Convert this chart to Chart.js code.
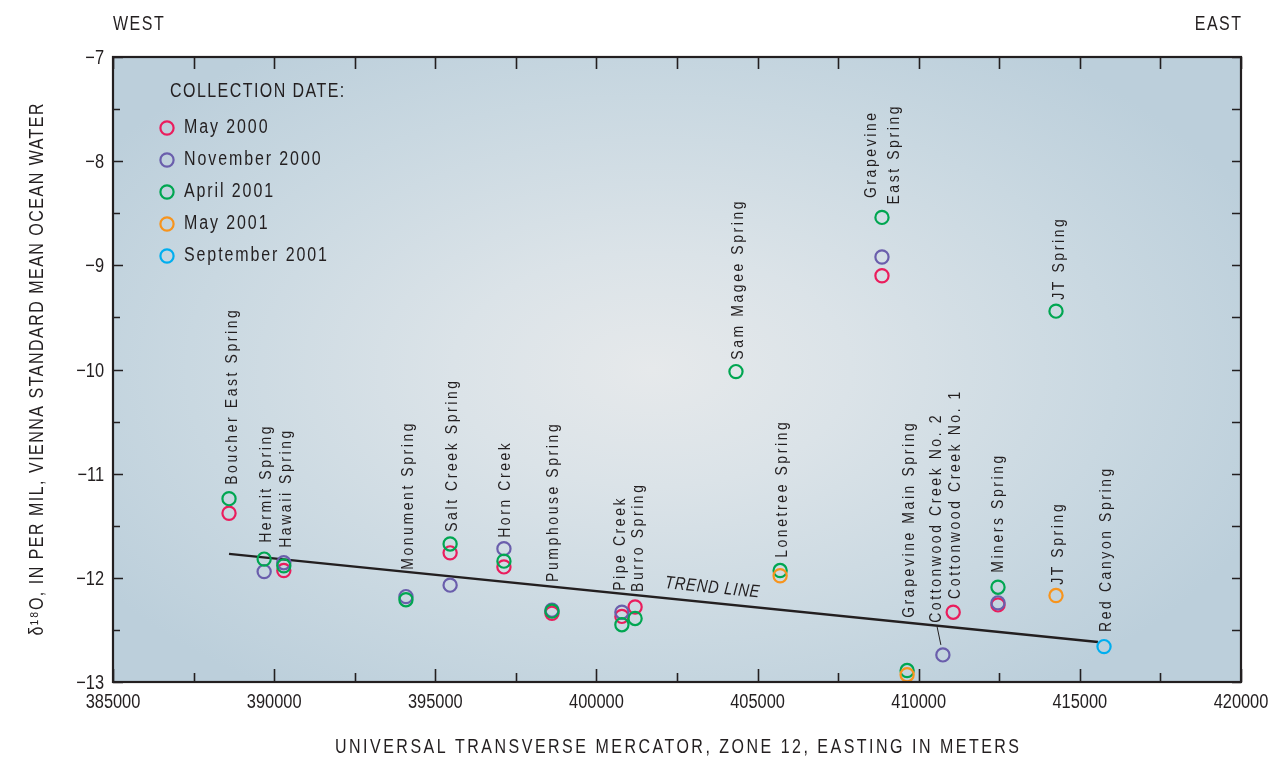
<!DOCTYPE html>
<html>
<head>
<meta charset="utf-8">
<script src="https://cdn.jsdelivr.net/npm/chart.js@4.4.1/dist/chart.umd.min.js"></script>
<style>
  html, body { margin: 0; padding: 0; background: #ffffff; }
  #wrap { width: 1270px; height: 761px; position: relative; }
</style>
</head>
<body>
<div id="wrap"><canvas id="chart" width="1270" height="761"></canvas></div>
<script>
// Sampling sites, west to east
const siteNames = [
  'Boucher East Spring', 'Hermit Spring', 'Hawaii Spring', 'Monument Spring',
  'Salt Creek Spring', 'Horn Creek', 'Pumphouse Spring', 'Pipe Creek',
  'Burro Spring', 'Sam Magee Spring', 'Lonetree Spring', 'Grapevine East Spring',
  'Grapevine Main Spring', 'Cottonwood Creek No. 2', 'Cottonwood Creek No. 1',
  'Miners Spring', 'JT Spring', 'Red Canyon Spring'
];
// UTM zone 12 easting, meters
const siteEasting = [
  388600, 389690, 390300, 394090, 395460, 397130, 398620, 400790, 401200,
  404330, 405700, 408860, 409640, 410750, 411070, 412460, 414260, 415750
];
// δ18O, per mil VSMOW, by collection date (null = not sampled)
const may2000 = [-11.38, null, -11.93, null, -11.76, -11.895, -12.34, -12.37, -12.28,
  null, null, -9.10, null, null, -12.33, -12.26, null, null];
const nov2000 = [null, -11.94, -11.855, -12.18, -12.07, -11.72, -12.31, -12.33, null,
  null, null, -8.92, null, -12.74, null, -12.24, null, null];
const apr2001 = [-11.24, -11.82, -11.885, -12.21, -11.675, -11.84, -12.32, -12.45, -12.39,
  -10.02, -11.93, -8.54, -12.89, null, null, -12.09, -9.44, null];
const may2001 = [null, null, null, null, null, null, null, null, null,
  null, -11.98, null, -12.93, null, null, null, -12.17, null];
const sep2001 = [null, null, null, null, null, null, null, null, null,
  null, null, null, null, null, null, null, null, -12.66];

const collectionNames = ['May 2000', 'November 2000', 'April 2001', 'May 2001', 'September 2001'];
const collectionValues = [may2000, nov2000, apr2001, may2001, sep2001];
const collectionColors = ['#ea1d5d', '#6a5eac', '#00a651', '#f7941d', '#00aeef'];

// Trend line end points
const trendEasting = [388600, 415560];
const trendValue = [-11.77, -12.615];

const xTickValues = [385000, 390000, 395000, 400000, 405000, 410000, 415000, 420000];
const yTickValues = [-13, -12, -11, -10, -9, -8, -7];

// Site label placement: text, easting of label, value where the label starts
const labelPlacement = [
  { text: ['Boucher East Spring'], e: 388690, v: -11.107 },
  { text: ['Hermit Spring'], e: 389750, v: -11.664 },
  { text: ['Hawaii Spring'], e: 390370, v: -11.712 },
  { text: ['Monument Spring'], e: 394150, v: -11.923 },
  { text: ['Salt Creek Spring'], e: 395520, v: -11.558 },
  { text: ['Horn Creek'], e: 397160, v: -11.616 },
  { text: ['Pumphouse Spring'], e: 398650, v: -12.039 },
  { text: ['Pipe Creek'], e: 400730, v: -12.125 },
  { text: ['Burro Spring'], e: 401290, v: -12.135 },
  { text: ['Sam Magee Spring'], e: 404390, v: -9.906 },
  { text: ['Lonetree Spring'], e: 405760, v: -11.808 },
  { text: ['Grapevine', 'East Spring'], e: 408890, v: -7.946, centered: true },
  { text: ['JT Spring'], e: 414350, v: -9.33 },
  { text: ['Grapevine Main Spring'], e: 409700, v: -12.384 },
  { text: ['Cottonwood Creek No. 2'], e: 410540, v: -12.432, leaderTo: 13 },
  { text: ['Cottonwood Creek No. 1'], e: 411130, v: -12.202 },
  { text: ['Miners Spring'], e: 412460, v: -11.952 },
  { text: ['JT Spring'], e: 414320, v: -12.067 },
  { text: ['Red Canyon Spring'], e: 415810, v: -12.519 }
];
const trendLabelEasting = 403590;

const FONT = "'Liberation Sans', Arial, sans-serif";
const CONDENSE = 0.82;
const INK = '#231f20';

// Text drawn narrowed along its own direction, with tracking given in screen px
function spacedText(ctx, text, x, y, o) {
  const sx = o.sx === undefined ? CONDENSE : o.sx;
  ctx.save();
  ctx.font = o.font;
  ctx.fillStyle = o.color || INK;
  ctx.letterSpacing = ((o.spacing || 0) / sx) + 'px';
  ctx.textAlign = o.align || 'left';
  ctx.textBaseline = o.baseline || 'middle';
  ctx.translate(x, y);
  if (o.rotate) ctx.rotate(o.rotate);
  ctx.scale(sx, 1);
  let dx = 0;
  if ((o.align === 'center') && o.spacing) dx = (o.spacing / sx) / 2;
  if ((o.align === 'right') && o.spacing) dx = o.spacing / sx;
  ctx.fillText(text, dx, 0);
  ctx.restore();
}

// Shaded plot background
const backdrop = {
  id: 'backdrop',
  beforeDraw(chart) {
    const { ctx, chartArea: a } = chart;
    const cx = (a.left + a.right) / 2 - 25, cy = (a.top + a.bottom) / 2;
    ctx.save();
    ctx.beginPath();
    ctx.rect(a.left, a.top, a.right - a.left, a.bottom - a.top);
    ctx.clip();
    ctx.translate(cx, cy);
    ctx.scale(1.7, 1);
    const g = ctx.createRadialGradient(0, 0, 0, 0, 0, 390);
    g.addColorStop(0, '#e6e9eb');
    g.addColorStop(0.3, '#dbe3e8');
    g.addColorStop(0.7, '#c9d8e1');
    g.addColorStop(1, '#bccfdb');
    ctx.fillStyle = g;
    ctx.fillRect(-700, -500, 1400, 1000);
    ctx.restore();
  }
};

// Frame, inward tick marks, tick labels, titles, legend and site labels
const annotations = {
  id: 'annotations',
  afterDatasetsDraw(chart) {
    const { ctx, chartArea: a, scales: { x, y } } = chart;
    ctx.save();
    ctx.strokeStyle = INK;
    ctx.lineWidth = 1.6;
    ctx.beginPath();
    for (let v = 385000; v <= 420000; v += 2500) {
      const px = Math.round(x.getPixelForValue(v)) + 0.5;
      const len = (v % 5000 === 0) ? 13 : 9;
      ctx.moveTo(px, a.bottom); ctx.lineTo(px, a.bottom - len);
      ctx.moveTo(px, a.top); ctx.lineTo(px, a.top + 12);
    }
    for (let v = -13; v <= -7; v += 0.5) {
      const py = Math.round(y.getPixelForValue(v)) + 0.5;
      const len = Number.isInteger(v) ? 10 : 7;
      ctx.moveTo(a.left, py); ctx.lineTo(a.left + len, py);
      ctx.moveTo(a.right, py); ctx.lineTo(a.right - 9, py);
    }
    ctx.stroke();
    ctx.lineWidth = 2.2;
    ctx.strokeRect(a.left, a.top, a.right - a.left, a.bottom - a.top);
    ctx.restore();

    // Tick labels
    xTickValues.forEach(v => {
      spacedText(ctx, String(v), x.getPixelForValue(v), a.bottom + 26,
        { font: '20px ' + FONT, align: 'center', baseline: 'alphabetic' });
    });
    yTickValues.forEach(v => {
      spacedText(ctx, String(v).replace('-', '\u2212'), a.left - 9, y.getPixelForValue(v) + 7,
        { font: '20px ' + FONT, align: 'right', baseline: 'alphabetic' });
    });

    // Site labels
    const lf = '17px ' + FONT;
    labelPlacement.forEach(l => {
      const px = x.getPixelForValue(l.e);
      const py = y.getPixelForValue(l.v);
      if (l.centered) {
        l.text.forEach((t, i) => {
          const dx = (i - (l.text.length - 1) / 2) * 23;
          spacedText(ctx, t, px + dx, py, { font: lf, spacing: 2.6, align: 'center', rotate: -Math.PI / 2 });
        });
      } else {
        spacedText(ctx, l.text[0], px, py, { font: lf, spacing: 2.6, align: 'left', rotate: -Math.PI / 2 });
      }
      if (l.leaderTo !== undefined) {
        const tx = x.getPixelForValue(siteEasting[l.leaderTo]);
        const ty = y.getPixelForValue(nov2000[l.leaderTo]);
        ctx.save();
        ctx.strokeStyle = INK; ctx.lineWidth = 1;
        ctx.beginPath();
        ctx.moveTo(px + 1, py + 4);
        ctx.lineTo(tx - 2, ty - 10);
        ctx.stroke();
        ctx.restore();
      }
    });

    // Trend line label
    const x0 = x.getPixelForValue(trendEasting[0]), y0 = y.getPixelForValue(trendValue[0]);
    const x1 = x.getPixelForValue(trendEasting[1]), y1 = y.getPixelForValue(trendValue[1]);
    const ang = Math.atan2(y1 - y0, x1 - x0);
    const lx = x.getPixelForValue(trendLabelEasting);
    const ly = y0 + (lx - x0) * Math.tan(ang) - 15;
    spacedText(ctx, 'TREND LINE', lx, ly, { font: 'italic 18px ' + FONT, spacing: 0.8, align: 'center', rotate: ang });

    // Legend
    const lgX = a.left + 57, lgY = a.top + 35;
    spacedText(ctx, 'COLLECTION DATE:', lgX, lgY, { font: '19.5px ' + FONT, spacing: 1.45 });
    collectionNames.forEach((n, i) => {
      const cy = lgY + 36 + i * 32;
      ctx.save();
      ctx.strokeStyle = collectionColors[i];
      ctx.lineWidth = 2.2;
      ctx.beginPath();
      ctx.arc(lgX - 3, cy, 6.6, 0, Math.PI * 2);
      ctx.stroke();
      ctx.restore();
      spacedText(ctx, n, lgX + 14, cy, { font: '19.5px ' + FONT, spacing: 1.9 });
    });
  },
  afterDraw(chart) {
    const { ctx, chartArea: a } = chart;
    spacedText(ctx, 'WEST', a.left, 25, { font: '19.5px ' + FONT, spacing: 1.5 });
    spacedText(ctx, 'EAST', a.right, 25, { font: '19.5px ' + FONT, spacing: 1.5, align: 'right' });
    spacedText(ctx, 'UNIVERSAL TRANSVERSE MERCATOR, ZONE 12, EASTING IN METERS',
      (a.left + a.right) / 2, 748, { font: '19.5px ' + FONT, spacing: 2.5, align: 'center' });
    spacedText(ctx, 'δ¹⁸O, IN PER MIL, VIENNA STANDARD MEAN OCEAN WATER',
      38, (a.top + a.bottom) / 2, { font: '19.5px ' + FONT, spacing: 1.5, align: 'center', rotate: -Math.PI / 2 });
  }
};

function pointsFor(values) {
  const pts = [];
  values.forEach((v, i) => { if (v !== null) pts.push({ x: siteEasting[i], y: v }); });
  return pts;
}

const datasets = collectionNames.map((name, i) => ({
  label: name,
  data: pointsFor(collectionValues[i]),
  borderColor: collectionColors[i],
  backgroundColor: 'rgba(0,0,0,0)',
  pointRadius: 6.6,
  pointBorderWidth: 2.2,
  pointHoverRadius: 6.6,
  order: 5 - i
}));
datasets.push({
  type: 'line',
  label: 'Trend line',
  data: trendEasting.map((e, i) => ({ x: e, y: trendValue[i] })),
  borderColor: INK,
  borderWidth: 2.5,
  pointRadius: 0,
  showLine: true,
  fill: false,
  order: 10
});

new Chart(document.getElementById('chart'), {
  type: 'scatter',
  data: { datasets },
  options: {
    responsive: false,
    animation: false,
    layout: { padding: { left: 0, top: 57, right: 29, bottom: 0 } },
    plugins: { legend: { display: false }, tooltip: { enabled: false } },
    scales: {
      x: {
        type: 'linear', position: 'bottom', min: 385000, max: 420000,
        afterFit: s => { s.height = 79; s.paddingLeft = 0; s.paddingRight = 0; },
        afterBuildTicks: s => { s.ticks = xTickValues.map(v => ({ value: v })); },
        ticks: { display: false },
        grid: { display: false, drawTicks: false },
        border: { display: false }
      },
      y: {
        type: 'linear', position: 'left', min: -13, max: -7,
        afterFit: s => { s.width = 113; s.paddingTop = 0; s.paddingBottom = 0; },
        afterBuildTicks: s => { s.ticks = yTickValues.map(v => ({ value: v })); },
        ticks: { display: false },
        grid: { display: false, drawTicks: false },
        border: { display: false }
      }
    }
  },
  plugins: [backdrop, annotations]
});
</script>
</body>
</html>
